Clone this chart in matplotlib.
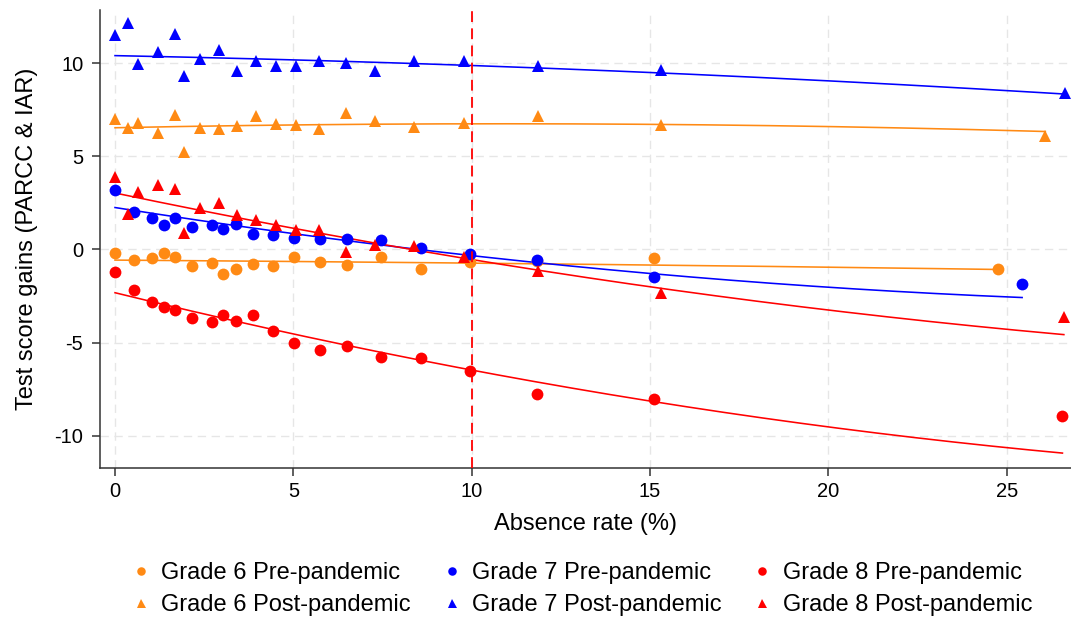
import numpy as np
import matplotlib
matplotlib.use("Agg")
import matplotlib.pyplot as plt

plt.rcParams['font.family'] = ['Liberation Sans', 'DejaVu Sans']
plt.rcParams['axes.unicode_minus'] = False

# binned absence rate (%) - pre and post pandemic bins
x_pre = [0, 0.54, 1.05, 1.36, 1.68, 2.17, 2.71, 3.04, 3.40, 3.88, 4.43,
         5.03, 5.75, 6.50, 7.47, 8.58, 9.95, 11.84, 15.12]
x_post = [0, 0.37, 0.65, 1.21, 1.68, 1.92, 2.39, 2.92, 3.43, 3.94, 4.50,
          5.06, 5.73, 6.47, 7.30, 8.38, 9.77, 11.86, 15.30]
last_x_pre = {6: 24.74, 7: 25.43, 8: 26.56}
last_x_post = {6: 26.08, 7: 26.63, 8: 26.60}

# bin means of test score gains
g6_pre = [-0.18, -0.54, -0.48, -0.18, -0.39, -0.89, -0.75, -1.32, -1.07, -0.79,
          -0.86, -0.43, -0.65, -0.83, -0.43, -1.06, -0.68, -0.62, -0.45, -1.04]
g7_pre = [3.20, 2.02, 1.68, 1.30, 1.71, 1.23, 1.32, 1.12, 1.35, 0.81,
          0.75, 0.64, 0.57, 0.57, 0.52, 0.07, -0.25, -0.57, -1.47, -1.87]
g8_pre = [-1.20, -2.18, -2.80, -3.07, -3.25, -3.66, -3.88, -3.52, -3.82, -3.52,
          -4.38, -5.04, -5.39, -5.18, -5.75, -5.80, -6.50, -7.76, -8.03, -8.93]

g6_post = [7.02, 6.53, 6.79, 6.26, 7.20, 5.22, 6.53, 6.48, 6.62, 7.15,
           6.75, 6.70, 6.48, 7.33, 6.88, 6.57, 6.79, 7.14, 6.69, 6.09]
g7_post = [11.53, 12.17, 9.95, 10.60, 11.57, 9.33, 10.23, 10.72, 9.55, 10.13,
           9.86, 9.82, 10.13, 10.00, 9.55, 10.13, 10.09, 9.82, 9.64, 8.39]
g8_post = [3.87, 1.89, 3.06, 3.48, 3.24, 0.90, 2.22, 2.49, 1.84, 1.59,
           1.33, 1.02, 1.02, -0.15, 0.25, 0.18, -0.43, -1.14, -2.36, -3.64]

# quadratic fit coefficients (const, linear, square), fitted on student-level data
fit_pre = {6: [-0.57, -0.0134, -0.00028],
           7: [2.25, -0.302, 0.00441],
           8: [-2.32, -0.470, 0.0055]}
fit_post = {6: [6.53, 0.0392, -0.0018],
            7: [10.40, -0.0383, -0.00147],
            8: [3.03, -0.400, 0.0043]}

colors = {6: '#ff8a14', 7: '#0000ff', 8: '#ff0000'}
pre = {6: g6_pre, 7: g7_pre, 8: g8_pre}
post = {6: g6_post, 7: g7_post, 8: g8_post}

fig = plt.figure(figsize=(10.71, 6.22), dpi=100)
ax = fig.add_axes([0.0934, 0.248, 0.9066, 0.736])

handles = []
for g in [6, 7, 8]:
    for period, xs, data, coef, marker, ms in [
            ("Pre", x_pre + [last_x_pre[g]], pre[g], fit_pre[g], 'o', 8.5),
            ("Post", x_post + [last_x_post[g]], post[g], fit_post[g], '^', 9.0)]:
        xs = np.array(xs)
        ys = np.array(data)
        h, = ax.plot(xs, ys, linestyle='none', marker=marker, markersize=ms,
                     color=colors[g], markeredgewidth=0,
                     label=f"Grade {g} {period}-pandemic", zorder=3)
        handles.append(h)
        xx = np.linspace(0, xs.max(), 200)
        yy = coef[0] + coef[1] * xx + coef[2] * xx ** 2
        ax.plot(xx, yy, color=colors[g], lw=1.15, zorder=2)

ax.axvline(10, color='#ff0000', lw=1.3, dashes=(6, 3.5), zorder=4)

ax.set_xlim(-0.42, 26.8)
ax.set_ylim(-11.71, 12.85)
ax.set_xticks([0, 5, 10, 15, 20, 25])
ax.set_yticks([-10, -5, 0, 5, 10])
ax.grid(True, color='#e6e6e6', lw=1.0, dashes=(6, 4))
ax.set_axisbelow(True)

for s in ['top', 'right']:
    ax.spines[s].set_visible(False)
for s in ['left', 'bottom']:
    ax.spines[s].set_color('#333333')
    ax.spines[s].set_linewidth(1.1)
ax.tick_params(axis='both', direction='out', length=6, width=1.1,
               color='#333333', labelsize=14.5)
ax.tick_params(axis='y', pad=6)
ax.tick_params(axis='x', pad=4)

ax.set_xlabel("Absence rate (%)", fontsize=17)
ax.set_ylabel("Test score gains (PARCC & IAR)", fontsize=17)
ax.xaxis.set_label_coords(0.5, -0.098)
ax.yaxis.set_label_coords(-0.064, 0.5)

fig.legend(handles=handles, ncol=3, loc='center',
           bbox_to_anchor=(582 / 1071, 1 - 589 / 622),
           bbox_transform=fig.transFigure,
           frameon=False, fontsize=17, markerscale=0.72, handlelength=0.8,
           handletextpad=0.45, columnspacing=1.33, labelspacing=0.42,
           borderpad=0)

fig.savefig("out.png", dpi=100)
